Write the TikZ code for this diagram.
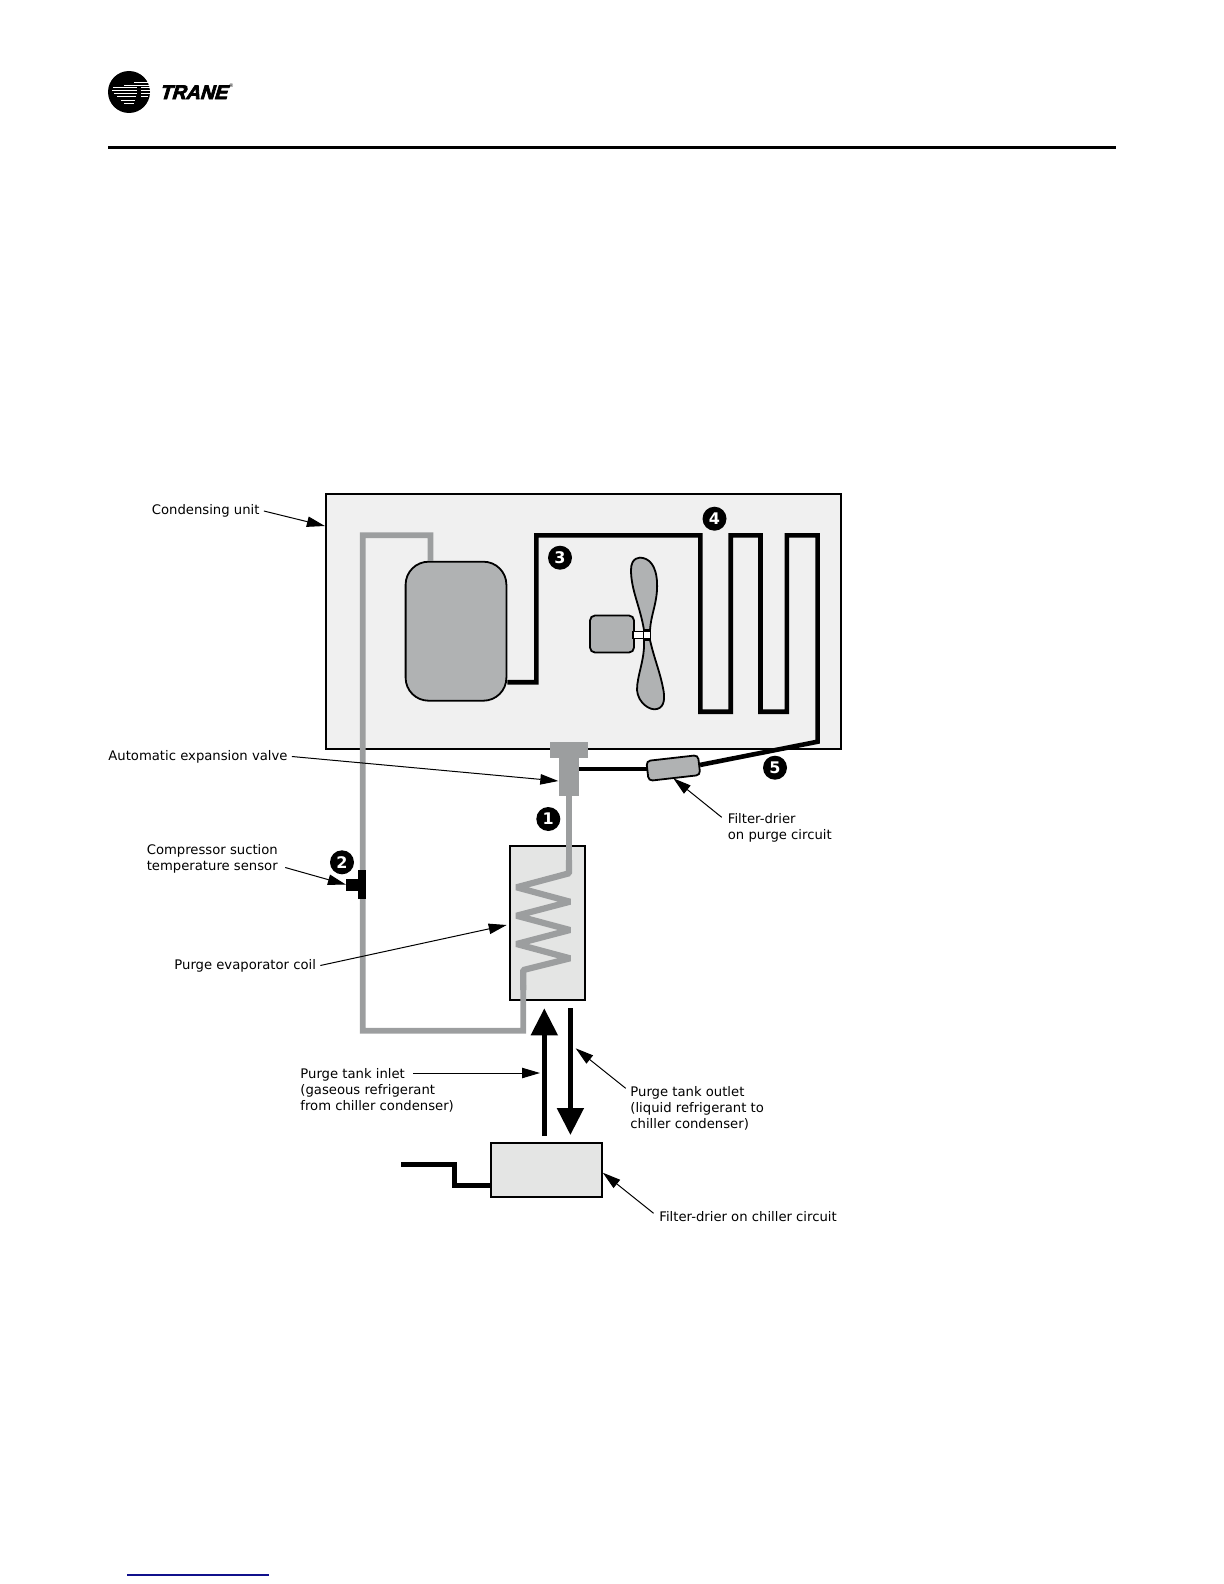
\documentclass[tikz,border=0pt]{standalone}
\usepackage{fontspec}
\setmainfont{DejaVu Sans}
\newfontfamily\logofont[FakeSlant=0.3,FakeBold=4]{Liberation Sans Bold}
\usetikzlibrary{arrows.meta, positioning}
\definecolor{unitgray}{HTML}{F0F0F0}
\definecolor{tankgray}{HTML}{E4E5E4}
\definecolor{partgray}{HTML}{B0B2B3}
\definecolor{pipegray}{HTML}{9C9E9F}
\definecolor{rulenavy}{HTML}{10108C}
\tikzset{
    notelabel/.style = {align=left, inner sep=2pt, anchor=west, font=\fontsize{6.6}{8}\selectfont},
    callout/.style = {draw, line width=0.5pt, -{Triangle[length=9pt,width=5.2pt]}},
    tank/.style = {rectangle, draw, line width=1pt, fill=tankgray, inner sep=0pt},
    part/.style = {rectangle, draw, line width=0.9pt, fill=partgray, inner sep=0pt},
    valvepart/.style = {rectangle, fill=pipegray, inner sep=0pt, outer sep=0pt},
    sensorpart/.style = {rectangle, fill=black, inner sep=0pt, outer sep=0pt},
    badge/.style = {circle, fill=black, text=white, inner sep=0pt, minimum size=12pt, font=\bfseries\fontsize{8}{8}\selectfont},
    coldpipe/.style = {draw, pipegray, line width=2.9pt, miter limit=10},
    hotpipe/.style = {draw, black, line width=2.3pt, miter limit=10},
    flowarrow/.style = {draw, line width=2.5pt, -{Triangle[length=13.5pt,width=13pt]}}
}
\begin{document}
\begin{tikzpicture}[x=0.5pt, y=-0.5pt]
    \useasboundingbox (0,0) rectangle (1224,1584);

    % Logo
    \node [circle, fill=black, inner sep=0pt, minimum size=21pt] (logo) at (129,92) {};
    \foreach \yy/\xa/\xb in {82.3/134/149, 85.5/124/150, 88/113/137, 88/141/150, 90.7/112/137, 90.7/141/150, 93.5/114/137, 93.5/141/150, 97/117/136, 97/141/148, 101/121/135, 104/124/134}
        \draw [white, line width=0.5pt] (\xa,\yy) -- (\xb,\yy);
    \node [inner sep=0pt, anchor=base west, font=\logofont\fontsize{9.8}{10}\selectfont] (brand) at (159,99) {TRANE};
    \node [inner sep=0pt, anchor=base west, font=\fontsize{2.5}{3}\selectfont] (brandmark) at (228.5,88) {®};

    % Page rules
    \draw [line width=1.5pt] (108,147.5) -- (1116,147.5);
    \draw [rulenavy, line width=0.6pt] (127,1575) -- (269,1575);

    % Condensing unit
    \node [rectangle, draw, line width=0.9pt, fill=unitgray, minimum width=257.5pt, minimum height=127.5pt] (unit) at (583.3,621.7) {};

    % Compressor and fan
    \node [part, rounded corners=11.5pt, minimum width=50.4pt, minimum height=69.5pt] (compressor) at (456,631.2) {};
    \node [part, rounded corners=2.5pt, minimum width=22pt, minimum height=18.5pt] (motor) at (612,634) {};
    \node [rectangle, draw, line width=0.6pt, fill=white, minimum width=5.6pt, minimum height=3.6pt, inner sep=0pt] (shaft) at (638.5,635) {};
    \draw [part] (644,630) .. controls (640,606) and (631,590) .. (631,570)
        .. controls (631,557) and (640,557) .. (643,558)
        .. controls (652,560) and (658,570) .. (657,590)
        .. controls (656,606) and (651,615) .. (650,630) -- cycle;
    \draw [part] (644,640) .. controls (645,660) and (637,675) .. (637,690)
        .. controls (638,703) and (650,711) .. (657,709)
        .. controls (665,707) and (665,697) .. (663,688)
        .. controls (660,672) and (654,658) .. (650,640) -- cycle;
    \node [rectangle, draw, line width=0.8pt, fill=white, minimum size=3.4pt, inner sep=0pt] (hub) at (647,635) {};

    % Coil tank
    \node [tank, minimum width=37.6pt, minimum height=77pt] (coiltank) at (547.7,923) {};

    % Filter-driers
    \node [part, rounded corners=2pt, rotate=6.5, minimum width=26pt, minimum height=10pt] (filter) at (673.3,768) {};
    \node [tank, minimum width=55.6pt, minimum height=27.3pt] (drier) at (546.2,1170) {};

    % Expansion valve
    \node [valvepart, minimum width=19pt, minimum height=7.9pt] (valvecap) at (569,750) {};
    \node [valvepart, minimum width=10pt, minimum height=19.2pt, below=0pt of valvecap] (valve) {};

    % Suction line
    \path [coldpipe] ([xshift=-12.8pt]compressor.north) -- (430.5,535.3) -- (362.8,535.3) -- (362.8,1030.7)
        -- (523.3,1030.7) -- (523.3,985);
    \path [coldpipe, line width=3.1pt, line join=bevel] (523.3,990) -- (523.3,970) -- (570,958.3) -- (516.5,944) -- (570,930) -- (516.5,915.7)
        -- (570,901.7) -- (516.5,887.3) -- (569,873.3) -- (569,860);
    \path [coldpipe] (569,865) -- (valve.south);

    % Discharge and liquid line
    \path [hotpipe] ([yshift=-25.5pt]compressor.east) -- (536.4,682.3) -- (536.4,535.3) -- (700.3,535.3)
        -- (700.3,711.7) -- (730.7,711.7) -- (730.7,535.3) -- (760.5,535.3) -- (760.5,711.7)
        -- (786.9,711.7) -- (786.9,535.3) -- (817.6,535.3) -- (817.6,741.7) -- (filter.east);
    \path [hotpipe] ([yshift=1pt]filter.west) -- ([yshift=1pt]filter.west -| valve.east);
    \coordinate (stub) at (401.4,1164.3);
    \path [hotpipe, line width=2.5pt] (stub) -- (454.6,1164.3) -- (454.6,1185.3) -- (drier.west |- 454.6,1185.3);

    % Temperature sensor
    \node [sensorpart, minimum width=3.7pt, minimum height=14.7pt] (sensor) at (362,884.6) {};
    \node [sensorpart, minimum width=6.2pt, minimum height=6pt, left=0pt of sensor] (sensorstub) {};

    % Flow arrows
    \coordinate (inletfoot) at (544.3,1136);
    \coordinate (inlettip) at (544.3,1008.3);
    \coordinate (outletfoot) at (570.4,1008);
    \coordinate (outlettip) at (570.4,1135);
    \path [flowarrow] (inletfoot) -- (inlettip);
    \path [flowarrow] (outletfoot) -- (outlettip);

    % Numbered badges
    \node [badge] (one) at (548.3,819) {1};
    \node [badge] (two) at (342,862.3) {2};
    \node [badge] (three) at (560,557.7) {3};
    \node [badge] (four) at (714.5,518.7) {4};
    \node [badge] (five) at (775,767.7) {5};

    % Labels
    \node [notelabel] (unitlabel) at (147.5,511) {Condensing unit};
    \node [notelabel] (valvelabel) at (104,756.5) {Automatic expansion valve};
    \node [notelabel] (sensorlabel) at (142.4,858.5) {Compressor suction\\temperature sensor};
    \node [notelabel] (coillabel) at (170,965.5) {Purge evaporator coil};
    \node [notelabel] (inletlabel) at (296,1090) {Purge tank inlet\\(gaseous refrigerant\\from chiller condenser)};
    \node [notelabel] (outletlabel) at (626,1108.5) {Purge tank outlet\\(liquid refrigerant to\\chiller condenser)};
    \node [notelabel] (filterlabel) at (723.5,828) {Filter-drier\\on purge circuit};
    \node [notelabel] (drierlabel) at (655,1217) {Filter-drier on chiller circuit};

    % Callouts
    \coordinate (inletstart) at (413,1073);
    \coordinate (outletstart) at (625.7,1088.3);
    \coordinate (filterstart) at (721.7,817.3);
    \coordinate (drierstart) at (653.6,1213.3);
    \path [callout] (unitlabel.east) -- (unit.west |- 0,526);
    \path [callout] (valvelabel.east) -- (558.3,781);
    \path [callout] (sensorlabel.east) ++(3,9) -- (sensorstub.west);
    \path [callout] (coillabel.east) -- (506.7,925);
    \path [callout] (inletstart) -- (540,1073);
    \path [callout] (outletstart) -- (575.7,1048.3);
    \path [callout] (filterstart) -- (673.3,778.3);
    \path [callout] (drierstart) -- (drier.east |- 0,1172.7);
\end{tikzpicture}
\end{document}
